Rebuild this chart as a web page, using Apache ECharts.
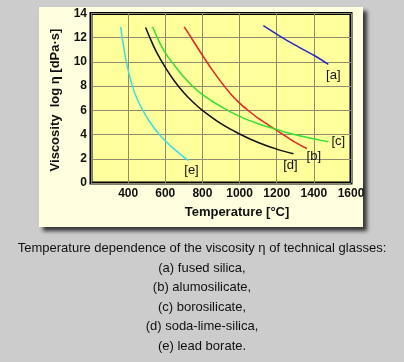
<!DOCTYPE html>
<html><head><meta charset="utf-8">
<script src="https://cdn.jsdelivr.net/npm/echarts@6/dist/echarts.min.js"></script>
<style>html,body{margin:0;padding:0;background:#cccccc}#c{width:404px;height:362px}</style>
</head><body><div id="c"></div>
<script>
// Data
const seriesNames = ['[a]', '[b]', '[c]', '[d]', '[e]'];
const tempA = [1128, 1210, 1300, 1400, 1478];
const viscA = [13.0, 12.2, 11.38, 10.55, 9.8];
const tempB = [702, 750, 800, 850, 900, 950, 1000, 1050, 1100, 1150, 1200, 1250, 1300, 1362];
const viscB = [12.9, 11.75, 10.55, 9.4, 8.35, 7.4, 6.6, 5.95, 5.35, 4.85, 4.35, 3.85, 3.35, 2.85];
const tempC = [532, 560, 600, 650, 700, 750, 800, 900, 1000, 1100, 1200, 1300, 1400, 1478];
const viscC = [12.9, 11.9, 10.75, 9.7, 8.75, 7.95, 7.3, 6.3, 5.5, 4.9, 4.42, 3.98, 3.65, 3.4];
const tempD = [494, 520, 550, 600, 650, 700, 750, 800, 900, 1000, 1100, 1200, 1290];
const viscD = [12.85, 11.9, 10.9, 9.55, 8.4, 7.45, 6.67, 6.0, 4.9, 4.05, 3.35, 2.8, 2.42];
const tempE = [360, 368, 390, 423, 447, 479, 519, 568, 632, 712, 725];
const viscE = [12.9, 12.0, 10.0, 8.0, 7.0, 6.0, 5.0, 4.0, 3.0, 2.0, 1.85];
const xTickHidden = [200];
const captionLines = [
  'Temperature dependence of the viscosity \u03b7 of technical glasses:',
  '(a) fused silica,',
  '(b) alumosilicate,',
  '(c) borosilicate,',
  '(d) soda-lime-silica,',
  '(e) lead borate.'
];
const xName = 'Temperature [\u00b0C]';
const yName = 'Viscosity  log \u03b7 [dPa\u00b7s]';

const FONT = '"Liberation Sans", Arial, sans-serif';
const chart = echarts.init(document.getElementById('c'), null, {renderer: 'canvas'});
function pairs(t, v) { return t.map((x, i) => [x, v[i]]); }

const colors = ['#2828c8', '#f02020', '#33e033', '#101010', '#38e0e8'];
const labelOffsets = [[5, 11], [7, 8], [10, 0], [-3, 12], [3, 10]];
const datas = [pairs(tempA, viscA), pairs(tempB, viscB), pairs(tempC, viscC), pairs(tempD, viscD), pairs(tempE, viscE)];

const series = datas.map((d, i) => ({
  type: 'line',
  name: seriesNames[i],
  data: d,
  smooth: 0.3,
  showSymbol: false,
  symbol: 'none',
  lineStyle: {color: colors[i], width: 1.5},
  endLabel: {
    show: true,
    formatter: seriesNames[i],
    color: '#111',
    fontSize: 13,
    fontFamily: FONT,
    distance: 0,
    align: 'center',
    verticalAlign: 'middle',
    offset: labelOffsets[i]
  },
  z: 3
}));

const graphic = [
  {type: 'rect', shape: {x: 39, y: 7, width: 324, height: 220}, z: -10,
   style: {fill: '#ffffe0', shadowBlur: 4, shadowOffsetX: 4, shadowOffsetY: 4, shadowColor: 'rgba(0,0,0,0.75)'}},
  {type: 'text', x: 237, y: 212, z: 10,
   style: {text: xName, font: 'bold 13px ' + FONT, fill: '#111', textAlign: 'center', textVerticalAlign: 'middle'}},
  {type: 'text', x: 55, y: 100, rotation: Math.PI / 2, z: 10,
   style: {text: yName, font: 'bold 13px ' + FONT, fill: '#111', textAlign: 'center', textVerticalAlign: 'middle'}}
];
captionLines.forEach((s, i) => {
  graphic.push({type: 'text', x: 202, y: 248.5 + i * 19.6, z: 10,
    style: {text: s, font: '13px ' + FONT, fill: '#111', textAlign: 'center', textVerticalAlign: 'middle'}});
});

chart.setOption({
  backgroundColor: '#cccccc',
  animation: false,
  grid: {left: 91, right: 53, top: 13.5, bottom: 179, show: true, backgroundColor: '#ffff9c', borderColor: '#000', borderWidth: 3},
  xAxis: {
    type: 'value', min: 200, max: 1600, interval: 200,
    axisLine: {show: false}, axisTick: {show: false},
    splitLine: {show: true, lineStyle: {color: '#8f8c6e', width: 1}},
    axisLabel: {formatter: v => xTickHidden.includes(v) ? '' : String(v), fontWeight: 'bold', fontSize: 12, fontFamily: FONT, color: '#111', margin: 5}
  },
  yAxis: {
    type: 'value', min: 0, max: 14, interval: 2,
    axisLine: {show: false}, axisTick: {show: false},
    splitLine: {show: true, lineStyle: {color: '#8f8c6e', width: 1}},
    axisLabel: {fontWeight: 'bold', fontSize: 12, fontFamily: FONT, color: '#111', margin: 4}
  },
  graphic: graphic,
  series: series
});
</script>
</body></html>
